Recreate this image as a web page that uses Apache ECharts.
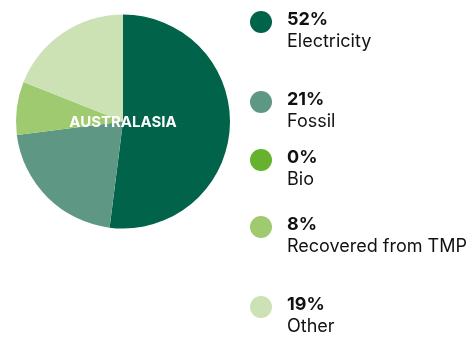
<!DOCTYPE html>
<html>
<head>
<meta charset="utf-8">
<script src="https://cdn.jsdelivr.net/npm/echarts@6/dist/echarts.min.js"></script>
<style>
  html, body { margin: 0; padding: 0; background: #ffffff; }
  #chart { width: 475px; height: 339px; }
</style>
</head>
<body>
<div id="chart"></div>
<script>
// Energy sources, share in percent
const categories = ['Electricity', 'Fossil', 'Bio', 'Recovered from TMP', 'Other'];
const shares = [52, 21, 0, 8, 19];
const regionName = 'AUSTRALASIA';

// Styling and legend layout
const colors = ['#00634a', '#5e9885', '#66b22e', '#9fca6f', '#cce2b4'];
const legendRowY = [22, 102, 160, 227, 307];
const FONT = 'Inter, "Noto Sans", sans-serif';

const chart = echarts.init(document.getElementById('chart'), null, { renderer: 'canvas' });

const legendGraphics = [];
categories.forEach((name, i) => {
  const y = legendRowY[i];
  legendGraphics.push({
    type: 'circle',
    shape: { cx: 261, cy: y, r: 11 },
    style: { fill: colors[i] },
    silent: true
  });
  legendGraphics.push({
    type: 'text',
    x: 287,
    y: y - 2,
    style: {
      text: shares[i] + '%',
      font: 'bold 18px ' + FONT,
      fill: '#111111',
      verticalAlign: 'middle'
    },
    silent: true
  });
  legendGraphics.push({
    type: 'text',
    x: 287,
    y: y + 20,
    style: {
      text: name,
      font: '18px ' + FONT,
      fill: '#111111',
      verticalAlign: 'middle'
    },
    silent: true
  });
});

chart.setOption({
  animation: false,
  color: colors,
  series: [{
    type: 'pie',
    center: [123, 121.5],
    radius: 107,
    startAngle: 90,
    clockwise: true,
    label: { show: false },
    labelLine: { show: false },
    emphasis: { disabled: true },
    itemStyle: { borderWidth: 0 },
    data: categories.map((name, i) => ({ name, value: shares[i] }))
  }],
  graphic: [
    {
      type: 'text',
      x: 123,
      y: 122,
      style: {
        text: regionName,
        font: 'bold 15px ' + FONT,
        fill: '#ffffff',
        align: 'center',
        verticalAlign: 'middle'
      },
      silent: true,
      z: 100
    }
  ].concat(legendGraphics)
});
</script>
</body>
</html>
